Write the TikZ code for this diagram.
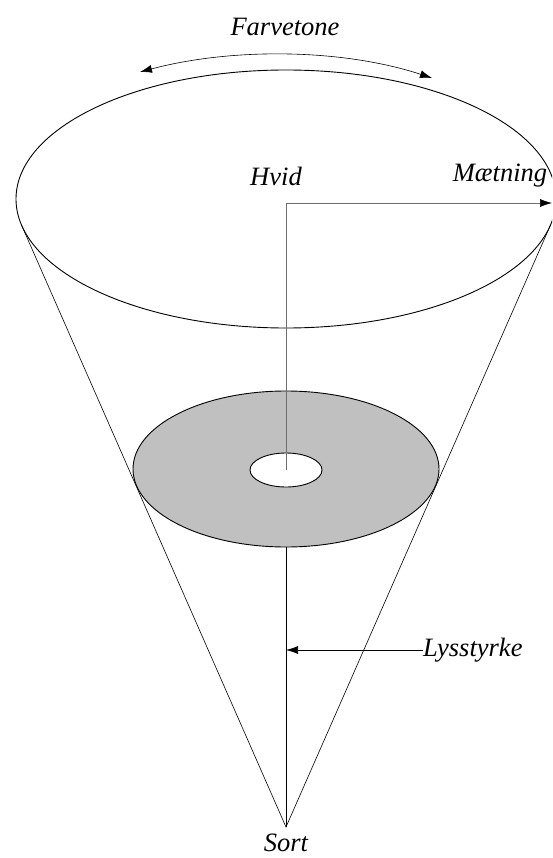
\documentclass[tikz,border=0pt]{standalone}
\usepackage{fontspec}
\setmainfont{Liberation Serif}
\usetikzlibrary{arrows.meta}
\definecolor{diskgray}{RGB}{192,192,192}
\definecolor{axisgray}{RGB}{110,110,110}
\begin{document}
\begin{tikzpicture}[x=1pt,y=-1pt,
  lbl/.style={font=\fontsize{26.5}{30}\selectfont\itshape, inner sep=0pt},
  thinline/.style={line width=0.6pt},
  rim/.style={line width=0.9pt},
  tipend/.style={-{Latex[length=12pt,width=8pt,black]}},
  tipboth/.style={{Latex[length=12pt,width=8pt,black]}-{Latex[length=12pt,width=8pt,black]}}]
\useasboundingbox (0,0) rectangle (552,858);
\clip (0,0) rectangle (552,858);
% named points
\coordinate (apex) at (286,827);
\coordinate (tl) at (21.7,225.5);
\coordinate (tr) at (550.3,225.5);
\coordinate (top) at (286,199);
\coordinate (diskc) at (286,469);
\coordinate (diskbot) at (286,547);
\coordinate (holec) at (286,470);
\coordinate (corner) at (286,203);
\coordinate (mend) at (552,203);
\coordinate (fl) at (140,72);
\coordinate (fr) at (432,78);
% cone
\draw[thinline] (tl) -- (apex) -- (tr);
\draw[rim] (top) ellipse [x radius=270pt, y radius=129pt];
% disk
\draw[rim, fill=diskgray] (diskc) ellipse [x radius=153pt, y radius=78pt];
\draw[rim, fill=white] (holec) ellipse [x radius=36pt, y radius=17pt];
% axis
\draw[thinline, axisgray, tipend] (holec) -- (corner) -- (mend);
\draw[line width=0.8pt] (diskbot) -- (apex);
% labels
\node[lbl] (farve) at (285,27) {Farvetone};
\node[lbl] (hvid) at (276,176) {Hvid};
\node[lbl] (maet) at (500,176) {Mætning};
\node[lbl, anchor=west] (lys) at (423,650) {Lysstyrke};
\node[lbl] (sort) at (286,843) {Sort};
% arrows
\draw[thinline, tipboth] (fl) .. controls (230,48) and (340,48) .. (fr);
\draw[thinline, tipend] (lys.west) -- (lys.west -| apex);
\end{tikzpicture}
\end{document}
